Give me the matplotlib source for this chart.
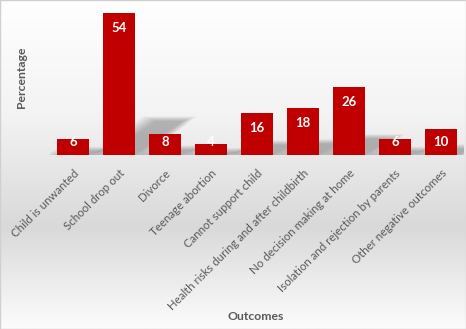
import numpy as np
import matplotlib
matplotlib.use("Agg")
import matplotlib.pyplot as plt
from matplotlib.colors import LinearSegmentedColormap
from matplotlib.patches import Polygon, Rectangle

categories = [
    "Child is unwanted",
    "School drop out",
    "Divorce",
    "Teenage abortion",
    "Cannot support child",
    "Health risks during and after childbirth",
    "No decision making at home",
    "Isolation and rejection by parents",
    "Other negative outcomes",
]
values = [6, 54, 8, 4, 16, 18, 26, 6, 10]

BAR_COLOR = "#C00000"
TEXT_COLOR = "#595959"
FONT = ["Lato", "DejaVu Sans"]

W, H = 466, 329
fig = plt.figure(figsize=(W / 100, H / 100), dpi=100)

# background gradient (white at top, grey band low, lighter at bottom)
bg = fig.add_axes([0, 0, 1, 1], zorder=-10)
bg.set_axis_off()
cmap = LinearSegmentedColormap.from_list(
    "bg", [(0.0, "#ffffff"), (0.35, "#f3f3f3"), (0.69, "#d9d9d9"), (1.0, "#fcfcfc")]
)
grad = np.linspace(0, 1, 256).reshape(-1, 1)
bg.imshow(grad, aspect="auto", cmap=cmap, extent=[0, 1, 0, 1], origin="upper")
bg.add_patch(Rectangle((0, 0), 1, 1, transform=bg.transAxes, fill=False,
                       edgecolor="#d0d0d0", linewidth=1.0))
bg.set_xlim(0, 1)
bg.set_ylim(0, 1)

# plotting area
px_per_unit = 2.63
ymax = 58
left_px, right_px = 50, 464
base_px = 155
top_px = base_px - ymax * px_per_unit
ax = fig.add_axes([left_px / W, 1 - base_px / H, (right_px - left_px) / W,
                   (base_px - top_px) / H])
ax.set_facecolor("none")
ax.set_xlim(-0.5, len(categories) - 0.5)
ax.set_ylim(0, ymax)
for s in ax.spines.values():
    s.set_visible(False)
ax.set_yticks([])
ax.tick_params(axis="x", length=0, pad=9)

x = np.arange(len(categories))
bw = 0.7

# soft perspective shadows behind the bars
for xi, v in zip(x, values):
    x0, x1 = xi - bw / 2, xi + bw / 2
    hs = 0.24 * v
    dx = 0.9 * min(1.0, v / 54) + 0.15
    for k in range(8):
        grow = 0.04 * k
        poly = Polygon(
            [(x0 + 0.05 - grow, 0), (x1 + grow, 0),
             (x1 + dx + grow, hs + grow * 6), (x0 + dx + 0.1 - grow, hs + grow * 6)],
            closed=True, facecolor="#000000", edgecolor="none",
            alpha=0.035, zorder=1)
        ax.add_patch(poly)

ax.bar(x, values, width=bw, color=BAR_COLOR, zorder=3)

# value labels inside the bar ends
for xi, v in zip(x, values):
    ly = max(v - 15 / px_per_unit, 13 / px_per_unit)
    ax.text(xi, ly, str(v), ha="center", va="center", color="white",
            fontsize=9.5, fontweight="bold", family=FONT, zorder=4)

ax.set_xticks(x)
ax.set_xticklabels(categories, rotation=45, ha="right", rotation_mode="anchor",
                   color=TEXT_COLOR, fontsize=8.3, family=FONT)

fig.text(22 / W, 1 - 77 / H, "Percentage", rotation=90, ha="center", va="center",
         color=TEXT_COLOR, fontsize=8.8, fontweight="bold", family=FONT)
fig.text(256 / W, 1 - 317 / H, "Outcomes", ha="center", va="center",
         color=TEXT_COLOR, fontsize=8.8, fontweight="bold", family=FONT)

fig.savefig("out.png", dpi=100)
